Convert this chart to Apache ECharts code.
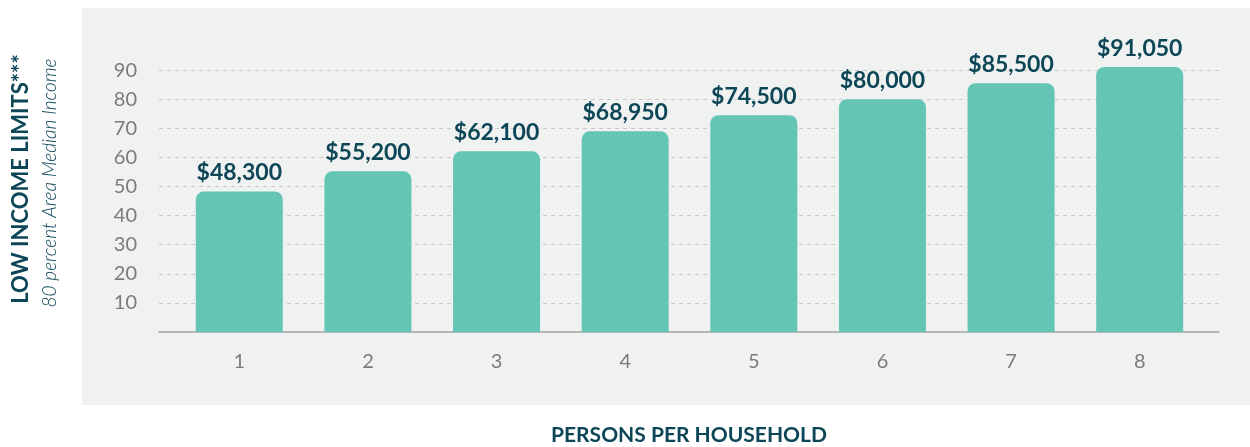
<!DOCTYPE html>
<html>
<head>
<meta charset="utf-8">
<script src="https://cdn.jsdelivr.net/npm/echarts@6/dist/echarts.min.js"></script>
<style>
  html, body { margin: 0; padding: 0; background: #fff; }
  #chart { width: 1250px; height: 447px; }
</style>
</head>
<body>
<div id="chart"></div>
<script>
// persons per household
var householdSizes = ['1', '2', '3', '4', '5', '6', '7', '8'];
// income limit, thousands of dollars
var incomeLimits = [48.3, 55.2, 62.1, 68.95, 74.5, 80, 85.5, 91.05];
var yTicks = { min: 0, max: 100, step: 10 };

var dark = '#0c4657';
var grey = '#7b7b7b';
var font = 'Lato';

var myChart = echarts.init(document.getElementById('chart'), null, { renderer: 'canvas' });

function money(v) {
    return '$' + Math.round(v * 1000).toLocaleString('en-US');
}

var option = {
    animation: false,
    textStyle: { fontFamily: font },
    graphic: [
        {
            type: 'rect', z: -10, silent: true,
            shape: { x: 82, y: 8, width: 1168, height: 397 },
            style: { fill: '#f0f1f1' }
        },
        {
            type: 'text', x: 21, y: 179, rotation: Math.PI / 2,
            style: {
                text: 'LOW INCOME LIMITS***', fill: dark, fontFamily: font,
                fontSize: 22, fontWeight: 'bold', align: 'center', verticalAlign: 'middle'
            }
        },
        {
            type: 'text', x: 50, y: 183, rotation: Math.PI / 2,
            style: {
                text: '80 percent Area Median Income', fill: dark, fontFamily: font,
                fontSize: 19, fontStyle: 'italic', fontWeight: 300, align: 'center', verticalAlign: 'middle'
            }
        },
        {
            type: 'text', x: 689, y: 435,
            style: {
                text: 'PERSONS PER HOUSEHOLD', fill: dark, fontFamily: font,
                fontSize: 21, fontWeight: 'bold', align: 'center', verticalAlign: 'middle'
            }
        }
    ],
    grid: [
        // wide grid: y labels, dashed lines, base line
        { left: 159, right: 31, top: 41, bottom: 115 },
        // narrow grid: the bars
        { left: 175, right: 46, top: 41, bottom: 115 }
    ],
    xAxis: [
        {
            type: 'value', gridIndex: 0, min: 0, max: 1,
            axisLine: { show: true, onZero: false, lineStyle: { color: '#a3a3a3', width: 1.5 } },
            axisTick: { show: false }, axisLabel: { show: false }, splitLine: { show: false }
        },
        {
            type: 'category', gridIndex: 1, data: householdSizes,
            axisLine: { show: false }, axisTick: { show: false },
            axisLabel: { color: grey, fontSize: 20, margin: 20, fontFamily: font }
        }
    ],
    yAxis: [
        {
            type: 'value', gridIndex: 0, min: yTicks.min, max: yTicks.max, interval: yTicks.step,
            axisLine: { show: false }, axisTick: { show: false },
            axisLabel: {
                color: grey, fontSize: 20, margin: 22, fontFamily: font,
                showMinLabel: false, showMaxLabel: false
            },
            splitLine: {
                show: true, showMinLine: false, showMaxLine: false,
                lineStyle: { color: '#c9c9c9', type: [4, 4], width: 1 }
            }
        },
        {
            type: 'value', gridIndex: 1, min: yTicks.min, max: yTicks.max, interval: yTicks.step,
            show: false, splitLine: { show: false }
        }
    ],
    series: [
        {
            type: 'bar', xAxisIndex: 1, yAxisIndex: 1,
            data: incomeLimits, barWidth: 87,
            itemStyle: { color: '#64c5b4', borderRadius: [8, 8, 0, 0] },
            label: {
                show: true, position: 'top', distance: 7,
                color: dark, fontSize: 23, fontWeight: 'bold', fontFamily: font,
                formatter: function (p) { return money(p.value); }
            }
        }
    ]
};

myChart.setOption(option);
</script>
</body>
</html>
